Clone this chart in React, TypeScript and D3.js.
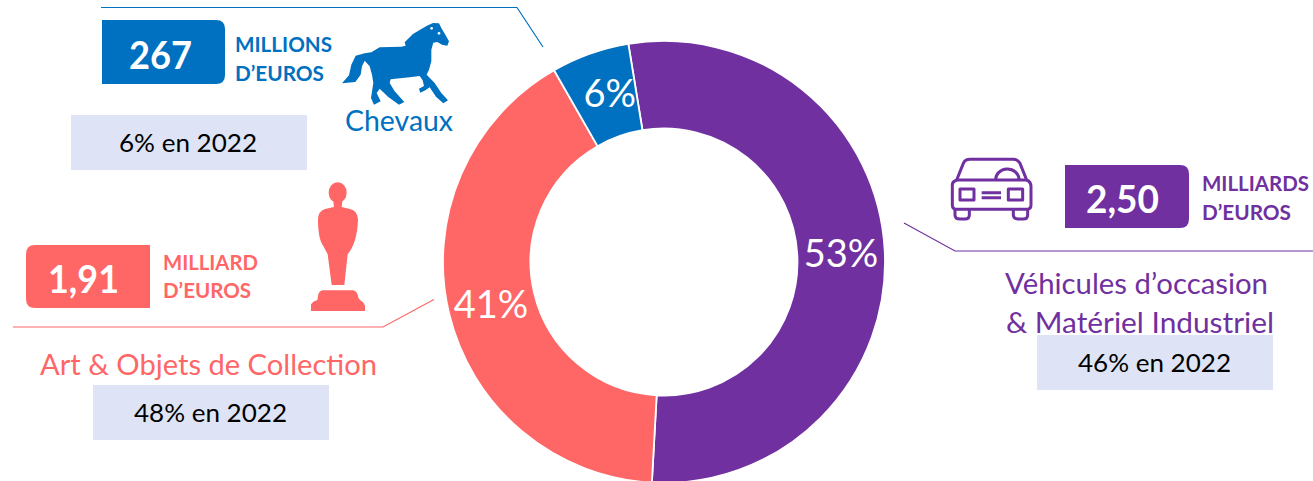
import React from "react";
import * as d3 from "d3";

const categories = ["Véhicules d’occasion & Matériel Industriel", "Art & Objets de Collection", "Chevaux"];
const values = [2.5, 1.91, 0.267];
const percentLabels = ["53%", "41%", "6%"];
const shares2022 = ["46% en 2022", "48% en 2022", "6% en 2022"];
const amounts = ["2,50", "1,91", "267"];
const units = [["MILLIARDS", "D’EUROS"], ["MILLIARD", "D’EUROS"], ["MILLIONS", "D’EUROS"]];
const colors = ["#7030A0", "#FF6666", "#0070C0"];

const PALE = "#DEE4F5";
const FONT = "Lato, Carlito, sans-serif";
const cx = 664, cy = 262, ro = 221, ri = 133.5;
const labelShift = [[0, 0.5], [-0.5, 1], [5, -2]];

function roundedBox(x: number, y: number, w: number, h: number, r: number, side: "left" | "right") {
  const p = d3.path();
  if (side === "right") {
    p.moveTo(x, y);
    p.lineTo(x + w - r, y);
    p.quadraticCurveTo(x + w, y, x + w, y + r);
    p.lineTo(x + w, y + h - r);
    p.quadraticCurveTo(x + w, y + h, x + w - r, y + h);
    p.lineTo(x, y + h);
  } else {
    p.moveTo(x + w, y);
    p.lineTo(x + r, y);
    p.quadraticCurveTo(x, y, x, y + r);
    p.lineTo(x, y + h - r);
    p.quadraticCurveTo(x, y + h, x + r, y + h);
    p.lineTo(x + w, y + h);
  }
  p.closePath();
  return p.toString();
}

type TProps = { x: number; y: number; w: number; size: number; fill: string; bold?: boolean; children: string };
function T({ x, y, w, size, fill, bold, children }: TProps) {
  return (
    <text x={x} y={y} fontSize={size} fill={fill} fontWeight={bold ? 700 : 400}
      textLength={w} lengthAdjust="spacingAndGlyphs">{children}</text>
  );
}

function polyline(points: [number, number][]) {
  return d3.line()(points) || "";
}

export default function App() {
  const start = -0.162;
  const pie = d3.pie<number>().value(d => d).sort(null).startAngle(start).endAngle(Math.PI * 2 + start);
  const arcs = pie(values);
  const arc = d3.arc<any>().innerRadius(ri).outerRadius(ro);
  return (
    <svg width={1313} height={481} style={{ position: "absolute", left: 0, top: 0, fontFamily: FONT }}>
      <rect width={1313} height={481} fill="#fff" />

      {/* donut */}
      {arcs.map((a, i) => (
        <path key={categories[i]} d={arc(a) || ""} transform={`translate(${cx},${cy})`}
          fill={colors[i]} stroke="#fff" strokeWidth={1.8} />
      ))}
      {arcs.map((a, i) => {
        const [x, y] = arc.centroid(a);
        return (
          <text key={i} x={cx + x + labelShift[i][0]} y={cy + y + labelShift[i][1] + 14}
            textAnchor="middle" fontSize={38} fill="#fff">{percentLabels[i]}</text>
        );
      })}

      {/* Chevaux */}
      <path d={polyline([[101, 7.5], [517, 7.5], [543, 47]])} fill="none" stroke={colors[2]} strokeWidth={1.2} />
      <path d={roundedBox(102, 20, 123, 64, 9, "right")} fill={colors[2]} />
      <T x={129} y={69} w={63} size={38} fill="#fff" bold>{amounts[2]}</T>
      <T x={235} y={52} w={97} size={20} fill={colors[2]} bold>{units[2][0]}</T>
      <T x={235} y={81} w={89} size={20} fill={colors[2]} bold>{units[2][1]}</T>
      <g transform="translate(338,18) scale(0.3333)">
        <path fill={colors[2]} d="M270,22 L285,15 L303,16 L310,30 L322,50 L333,70 L328,83 L312,80 L298,72 L286,74 L280,95 L280,130 L273,155 L266,170 L290,195 L310,225 L330,247 L316,256 L294,236 L275,208 L262,217 L247,224 L243,212 L258,204 L254,187 L245,174 L215,178 L158,184 L155,195 L170,220 L199,252 L183,260 L150,236 L125,212 L116,225 L128,250 L108,260 L99,240 L106,195 L102,170 L95,145 L80,128 L72,145 L68,170 L52,192 L12,196 L33,172 L40,140 L53,113 L80,106 L100,103 L125,88 L190,86 L203,83 L200,73 L225,48 L250,33 Z" />
        <circle cx={281} cy={31} r={4} fill="#fff" />
        <circle cx={303} cy={46} r={4} fill="#fff" />
      </g>
      <T x={345} y={131} w={108} size={28} fill={colors[2]}>{categories[2]}</T>
      <rect x={71} y={115} width={236} height={55} fill={PALE} />
      <T x={119} y={152} w={138} size={25} fill="#000">{shares2022[2]}</T>

      {/* Art */}
      <path d={polyline([[13, 327], [383, 327], [434, 299.5]])} fill="none" stroke={colors[1]} strokeWidth={1.2} />
      <path d={roundedBox(26, 245, 124, 63, 9, "left")} fill={colors[1]} />
      <T x={48} y={293} w={71} size={38} fill="#fff" bold>{amounts[1]}</T>
      <T x={163} y={270} w={95} size={20} fill={colors[1]} bold>{units[1][0]}</T>
      <T x={163} y={298} w={88} size={20} fill={colors[1]} bold>{units[1][1]}</T>
      <g transform="translate(300,176) scale(0.3333)" fill={colors[1]}>
        <ellipse cx={113} cy={50} rx={27} ry={31} />
        <path d="M100,75 L102,93 L75,99 Q55,105 54,130 Q54,190 70,210 L83,235 L95,327 L133,327 L143,235 Q172,200 174,130 Q172,103 150,99 L125,93 L127,75 Z" />
        <path d="M33,405 L33,385 Q40,375 52,372 L55,355 Q58,345 68,343 L160,343 Q172,345 175,365 L180,372 Q192,378 195,390 L195,405 Z" />
      </g>
      <T x={40} y={375} w={337} size={28} fill={colors[1]}>{categories[1]}</T>
      <rect x={93} y={385} width={236} height={55} fill={PALE} />
      <T x={134} y={422} w={153} size={25} fill="#000">{shares2022[1]}</T>

      {/* Véhicules */}
      <path d={polyline([[904, 223], [955, 251], [1313, 251]])} fill="none" stroke={colors[0]} strokeWidth={1.2} />
      <g transform="translate(945,150) scale(0.3333)" fill="none" stroke={colors[0]} strokeWidth={9} strokeLinejoin="round">
        <path d="M22,105 Q22,95 35,90 L55,40 Q60,28 75,28 L205,28 Q218,28 225,40 L245,90 Q258,95 258,110 L258,165 Q258,178 245,178 L35,178 Q22,178 22,165 Z" />
        <path d="M35,90 L245,90" />
        <path d="M152,90 A35,32 0 0 1 222,88" />
        <rect x={45} y={117} width={42} height={33} />
        <rect x={190} y={117} width={43} height={33} />
        <path d="M110,128 L168,128 M110,143 L168,143" />
        <path d="M30,178 L30,195 Q30,207 45,207 L60,207 Q73,207 73,195 L73,178" />
        <path d="M205,178 L205,195 Q205,207 220,207 L235,207 Q248,207 248,195 L248,178" />
      </g>
      <path d={roundedBox(1065, 165, 124, 63, 9, "right")} fill={colors[0]} />
      <T x={1086} y={213} w={73} size={38} fill="#fff" bold>{amounts[0]}</T>
      <T x={1202} y={191} w={107} size={20} fill={colors[0]} bold>{units[0][0]}</T>
      <T x={1202} y={220} w={89} size={20} fill={colors[0]} bold>{units[0][1]}</T>
      <T x={1005} y={294} w={263} size={28} fill={colors[0]}>Véhicules d’occasion</T>
      <T x={1006} y={333} w={268} size={28} fill={colors[0]}>&amp; Matériel Industriel</T>
      <rect x={1037} y={335} width={236} height={55} fill={PALE} />
      <T x={1078} y={372} w={153} size={25} fill="#000">{shares2022[0]}</T>
    </svg>
  );
}
